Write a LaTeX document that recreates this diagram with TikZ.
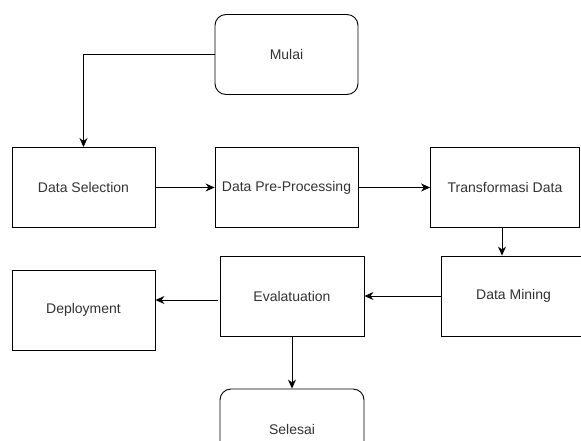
\documentclass[tikz,border=0pt]{standalone}
\usepackage{fontspec}
\setmainfont{Liberation Sans}
\usetikzlibrary{calc,arrows.meta}

\tikzset{
    kotak/.style={draw, line width=0.9pt, minimum width=143pt, minimum height=80pt, font=\fontsize{14}{16}\selectfont, text=black!80},
    terminal/.style={kotak, rounded corners=11pt},
    panah/.style={-{Stealth[length=9pt,width=8pt]}, line width=1pt}
}

\begin{document}
\begin{tikzpicture}[x=1pt, y=-1pt]
            % 画布大小
            \clip (0,0) rectangle (581,440);
            \fill[white] (0,0) rectangle (581,440);

            % 开始
            \node[terminal] (mulai) at (286.5, 54.5) {Mulai};

            % 第一行
            \node[kotak] (selection) at (83.5, 187.5) {Data Selection};
            \node[kotak] (preproc) at (286.5, 187.5) {Data Pre-Processing};
            \node[kotak, minimum width=149pt] (transform) at (505, 187.5) {Transformasi Data};

            % 第二行
            \node[kotak, minimum width=145pt] (mining) at (513.5, 296) {Data Mining};
            \node[kotak, minimum width=144pt] (evaluasi) at (292, 296) {Evalatuation};
            \node[kotak] (deploy) at (83.5, 310) {Deployment};

            % 结束
            \node[terminal, minimum width=144pt] (selesai) at (292, 429) {Selesai};

            % 箭头端点
            \coordinate (tm) at ($(transform.south)+(-3,0)$);
            \coordinate (ev) at ($(evaluasi.west)+(-2,4)$);

            % 箭头
            \draw[panah] (mulai.west) -| (selection.north);
            \draw[panah] (selection.east) -- (preproc.west);
            \draw[panah] (preproc.east) -- (transform.west);
            \draw[panah] (tm) -- (tm |- mining.north);
            \draw[panah] (mining.west) -- (evaluasi.east);
            \draw[panah] (ev) -- (ev -| deploy.east);
            \draw[panah] (evaluasi.south) -- (selesai.north);

        \end{tikzpicture}
\end{document}
